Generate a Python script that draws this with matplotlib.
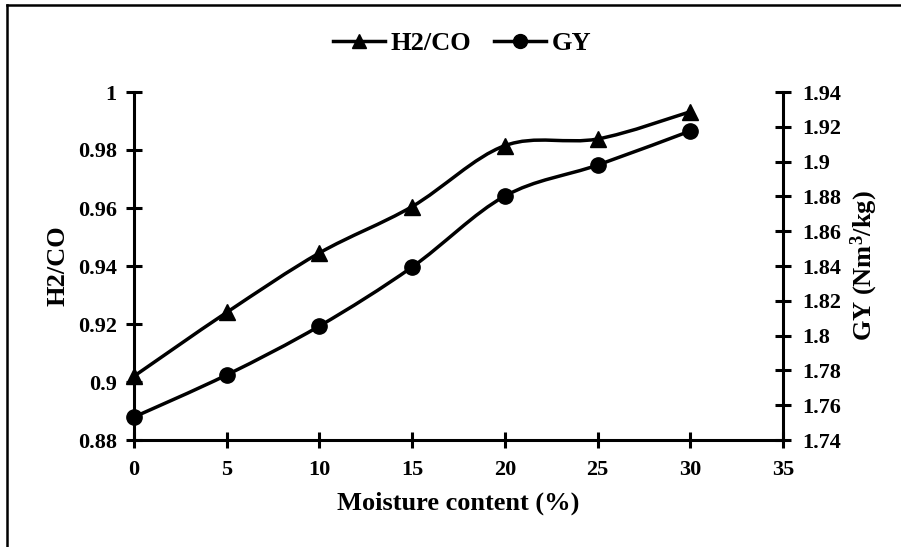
import numpy as np
import matplotlib.pyplot as plt
from matplotlib.path import Path
from matplotlib.patches import PathPatch
from matplotlib.lines import Line2D

# Moisture content (%) and the two measured responses
moisture = [0, 5, 10, 15, 20, 25, 30]
h2_co = [0.902, 0.924, 0.9445, 0.9605, 0.9815, 0.9838, 0.9932]
gy = [1.7532, 1.7774, 1.8055, 1.8394, 1.8802, 1.898, 1.9176]

plt.rcParams['font.family'] = ['Liberation Serif', 'DejaVu Serif']
plt.rcParams['font.weight'] = 'bold'
plt.rcParams['mathtext.fontset'] = 'custom'
plt.rcParams['mathtext.rm'] = 'Liberation Serif:bold'
plt.rcParams['mathtext.bf'] = 'Liberation Serif:bold'
plt.rcParams['mathtext.default'] = 'bf'


def smooth_path(ax, xs, ys, tension=1 / 6):
    # Catmull-Rom style bezier through the points, in display space
    pts = ax.transData.transform(np.column_stack([xs, ys]))
    n = len(pts)
    verts = [pts[0]]
    codes = [Path.MOVETO]
    for i in range(n - 1):
        p0 = pts[i - 1] if i > 0 else pts[i]
        p1 = pts[i]
        p2 = pts[i + 1]
        p3 = pts[i + 2] if i + 2 < n else pts[i + 1]
        c1 = p1 + (p2 - p0) * tension
        c2 = p2 - (p3 - p1) * tension
        verts += [c1, c2, p2]
        codes += [Path.CURVE4] * 3
    path = Path(ax.transData.inverted().transform(np.array(verts)), codes)
    ax.add_patch(PathPatch(path, fill=False, lw=2.5, color='black', zorder=2))


fig = plt.figure(figsize=(9.01, 5.47), dpi=100)
ax = fig.add_axes([134 / 901, 1 - 440 / 547, (783 - 134) / 901, (440 - 92) / 547])
ax2 = ax.twinx()

ax.set_xlim(0, 35)
ax.set_ylim(0.88, 1.0)
ax2.set_ylim(1.74, 1.94)

smooth_path(ax, moisture, h2_co)
smooth_path(ax2, moisture, gy)
ax.plot(moisture, h2_co, ls='none', marker='^', ms=11, color='black', zorder=3, clip_on=False)
ax2.plot(moisture, gy, ls='none', marker='o', ms=11, color='black', zorder=3, clip_on=False)

ax.set_xticks(range(0, 36, 5))
ax.set_yticks(np.arange(0.88, 1.001, 0.02))
ax.set_yticklabels(['0.88', '0.9', '0.92', '0.94', '0.96', '0.98', '1'])
ax2.set_yticks(np.arange(1.74, 1.941, 0.02))
ax2.set_yticklabels(['1.74', '1.76', '1.78', '1.8', '1.82', '1.84', '1.86',
                     '1.88', '1.9', '1.92', '1.94'])

for a in (ax, ax2):
    a.spines['top'].set_visible(False)
    for s in a.spines.values():
        s.set_linewidth(2.2)
    a.tick_params(direction='inout', length=11, width=2.2, labelsize=16, pad=7)
ax.spines['right'].set_visible(False)
ax2.spines['left'].set_visible(False)
ax2.spines['bottom'].set_visible(False)
ax.tick_params(axis='x', pad=9)
ax2.tick_params(axis='y', pad=8)

ax.set_xlabel('Moisture content (%)', fontsize=19, fontweight='bold', labelpad=8)
ax.set_ylabel('H2/CO', fontsize=19, fontweight='bold', labelpad=6)
ax2.set_ylabel('GY (Nm$^{3}$/kg)', fontsize=19, fontweight='bold', labelpad=6)

handles = [Line2D([], [], color='black', lw=2.5, marker='^', ms=10),
           Line2D([], [], color='black', lw=2.5, marker='o', ms=10)]
fig.legend(handles, ['H2/CO', 'GY'], loc='center', bbox_to_anchor=(462 / 901, 1 - 43 / 547),
           ncol=2, frameon=False, handlelength=2.0, handletextpad=0.2,
           columnspacing=0.85, prop={'weight': 'bold', 'size': 19})

# chart area frame (top and left edges)
fig.add_artist(Line2D([6.5 / 901, 1], [1 - 5 / 547] * 2, color='black', lw=1.8))
fig.add_artist(Line2D([6.5 / 901] * 2, [0, 1 - 5 / 547], color='black', lw=1.8))

fig.savefig('out.png', dpi=100)
